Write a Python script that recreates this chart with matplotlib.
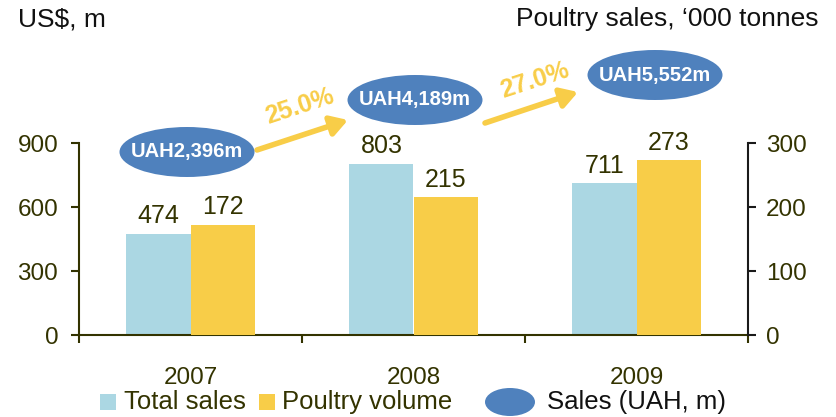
import matplotlib
matplotlib.use("Agg")
from matplotlib import pyplot as plt
from matplotlib.patches import Ellipse, Rectangle, FancyArrowPatch
import numpy as np

plt.rcParams['font.family'] = ['Liberation Sans', 'DejaVu Sans']

years = ['2007', '2008', '2009']
total_sales = [474, 803, 711]        # US$, m (left axis)
poultry_volume = [172, 215, 273]     # '000 tonnes (right axis)
sales_uah = ['UAH2,396m', 'UAH4,189m', 'UAH5,552m']
growth = ['25.0%', '27.0%']

BLUE = '#ABD7E3'
GOLD = '#F8CD48'
OVAL = '#4F81BD'
TXT = '#333300'

fig = plt.figure(figsize=(8.36, 4.17), dpi=100)
W, H = 836, 417

def fx(px):
  return px / W

def fy(py):
  return 1 - py / H

ax = fig.add_axes([fx(79), fy(335), fx(748) - fx(79), fy(143) - fy(335)])
ax2 = ax.twinx()

x = np.arange(len(years))
bw = 0.288
ax.bar(x - bw / 2, total_sales, bw, color=BLUE, zorder=2)
ax2.bar(x + bw / 2, poultry_volume, bw, color=GOLD, zorder=2)

for xi, v in zip(x, total_sales):
  ax.annotate(str(v), (xi - bw / 2, v), xytext=(0, 4), textcoords='offset points',
              ha='center', va='bottom', fontsize=18, color=TXT)
for xi, v in zip(x, poultry_volume):
  ax2.annotate(str(v), (xi + bw / 2, v), xytext=(0, 4), textcoords='offset points',
               ha='center', va='bottom', fontsize=18, color=TXT)

ax.set_xlim(-0.5, 2.5)
ax.set_ylim(0, 900)
ax2.set_ylim(0, 300)
ax.set_yticks([0, 300, 600, 900])
ax2.set_yticks([0, 100, 200, 300])

ax.set_xticks([-0.5, 0.5, 1.5, 2.5])
ax.set_xticklabels([])
ax.set_xticks(x, minor=True)
ax.set_xticklabels(years, minor=True)
ax.tick_params(axis='x', which='major', length=6, width=1.5, color=TXT, direction='out')
ax.tick_params(axis='x', which='minor', length=0, pad=23, labelsize=17.5, labelcolor=TXT)
ax.tick_params(axis='y', length=6, width=1.5, color=TXT, labelsize=17.5, labelcolor=TXT, pad=9)
ax2.tick_params(axis='y', length=6, width=1.5, color='#1a1a1a', labelsize=17.5, labelcolor=TXT, pad=7)

for s in ['top', 'right']:
  ax.spines[s].set_visible(False)
for s in ['top', 'left', 'bottom']:
  ax2.spines[s].set_visible(False)
ax.spines['left'].set_color(TXT)
ax.spines['bottom'].set_color(TXT)
ax.spines['left'].set_linewidth(1.5)
ax.spines['bottom'].set_linewidth(1.5)
ax2.spines['right'].set_color('#1a1a1a')
ax2.spines['right'].set_linewidth(1.5)

# axis titles
fig.text(fx(18), fy(19), 'US$, m', fontsize=19, ha='left', va='center', color='#111111')
fig.text(fx(818), fy(19), 'Poultry sales, \u2018000 tonnes', fontsize=19, ha='right', va='center', color='#111111')

# UAH sales ovals
oval_pos = [(187, 152), (415, 100), (655, 75)]
for (px, py), lab in zip(oval_pos, sales_uah):
  fig.patches.append(Ellipse((fx(px), fy(py)), 135 / W, 50 / H, transform=fig.transFigure,
                             facecolor=OVAL, edgecolor='none'))
  fig.text(fx(px), fy(py), lab, fontsize=14.5, fontweight='bold', color='white',
           ha='center', va='center')

# growth arrows
arrows = [((257, 150), (348, 120), (300, 106)), ((485, 123), (578, 92), (535, 80))]
for ((x0, y0), (x1, y1), (tx, ty)), g in zip(arrows, growth):
  fig.add_artist(FancyArrowPatch(
    (fx(x0), fy(y0)), (fx(x1), fy(y1)), transform=fig.transFigure,
    arrowstyle='-|>,head_length=10,head_width=6', mutation_scale=1,
    color=GOLD, linewidth=4, shrinkA=0, shrinkB=0))
  fig.text(fx(tx), fy(ty), g, fontsize=18, fontweight='bold', color=GOLD,
           ha='center', va='center', rotation=18, rotation_mode='anchor')

# legend
ly = 402
fig.patches.append(Rectangle((fx(100), fy(ly + 8)), 16 / W, 16 / H, transform=fig.transFigure,
                             facecolor=BLUE, edgecolor='none'))
fig.text(fx(124), fy(ly), 'Total sales', fontsize=18.5, color=TXT, ha='left', va='center')
fig.patches.append(Rectangle((fx(259), fy(ly + 8)), 16 / W, 16 / H, transform=fig.transFigure,
                             facecolor=GOLD, edgecolor='none'))
fig.text(fx(282), fy(ly), 'Poultry volume', fontsize=18.5, color=TXT, ha='left', va='center')
fig.patches.append(Ellipse((fx(510), fy(ly)), 50 / W, 28 / H, transform=fig.transFigure,
                           facecolor=OVAL, edgecolor='none'))
fig.text(fx(547), fy(ly), 'Sales (UAH, m)', fontsize=18.5, color='#111111', ha='left', va='center')

fig.savefig('out.png', dpi=100)
